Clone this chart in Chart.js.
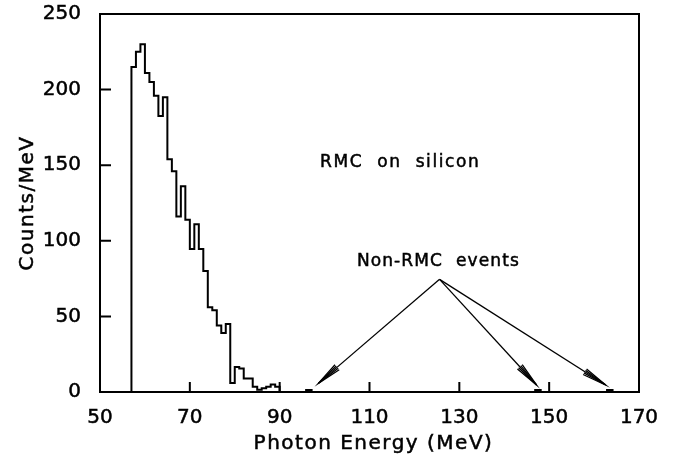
<!DOCTYPE html>
<html><head><meta charset="utf-8">
<script src="https://cdn.jsdelivr.net/npm/chart.js@4"></script>
<style>html,body{margin:0;padding:0;background:#fff}#wrap{width:673px;height:455px}</style>
</head><body><div id="wrap"><canvas id="c" width="673" height="455"></canvas></div>
<script>
// Histogram: bin start energies (MeV, 1 MeV bins) and counts per MeV
const binStarts = [57,58,59,60,61,62,63,64,65,66,67,68,69,70,71,72,73,74,75,76,77,78,79,80,81,82,83,84,85,86,87,88,89];
const counts    = [215,225,230,211,205,196,182.5,195,154,146,116,136,114,94.5,111,94.5,80,56,54,44,39,45,6,16.5,15.5,9,9,3.5,1.5,2.5,3.5,5,3.5];
const binWidth = 1;
// Isolated non-RMC events
const eventEnergies = [96,147,163];
const eventCounts   = [1,1,1];
// Axis ticks
const xTicks = [50,70,90,110,130,150,170];
const yTicks = [0,50,100,150,200,250];
// Arrow annotation (data coordinates)
const arrowBase = [125.6, 74.5];
const arrowTipX = [98.6, 147.2, 162.6];
const arrowTipY = [5.7, 4.6, 4.6];

const histPoints = [{x: binStarts[0], y: 0}];
binStarts.forEach((e, i) => histPoints.push({x: e, y: counts[i]}));
histPoints.push({x: binStarts[binStarts.length - 1] + binWidth, y: 0});

const eventPoints = [];
eventEnergies.forEach((e, i) => {
  eventPoints.push({x: e, y: 0});
  eventPoints.push({x: e, y: eventCounts[i]});
  eventPoints.push({x: e + binWidth, y: 0});
  eventPoints.push({x: e + binWidth, y: null});
});

const FONT = 'DejaVu Sans';
const STROKE = 0.5;

function heavyText(ctx, s, px, py) {
  ctx.lineWidth = STROKE;
  ctx.strokeText(s, px, py);
  ctx.fillText(s, px, py);
}

const overlay = {
  id: 'overlay',
  afterDatasetsDraw(chart) {
    const {ctx, chartArea: a, scales: {x, y}} = chart;
    ctx.save();
    ctx.strokeStyle = '#000';
    ctx.lineWidth = 2;
    ctx.strokeRect(a.left, a.top, a.right - a.left, a.bottom - a.top);
    ctx.beginPath();
    yTicks.forEach(v => { const py = y.getPixelForValue(v); ctx.moveTo(a.left, py); ctx.lineTo(a.left + 11, py); });
    xTicks.forEach(v => { const px = x.getPixelForValue(v); ctx.moveTo(px, a.bottom); ctx.lineTo(px, a.bottom - 10); });
    ctx.stroke();

    // arrows
    ctx.lineWidth = 1.3;
    const bx = x.getPixelForValue(arrowBase[0]), by = y.getPixelForValue(arrowBase[1]);
    arrowTipX.forEach((tx, i) => {
      const px = x.getPixelForValue(tx), py = y.getPixelForValue(arrowTipY[i]);
      ctx.beginPath(); ctx.moveTo(bx, by); ctx.lineTo(px, py); ctx.stroke();
      const ang = Math.atan2(by - py, bx - px);
      const L = 25;
      [0.13, 0.06].forEach(w => {
        ctx.beginPath();
        ctx.moveTo(px + L * Math.cos(ang + w), py + L * Math.sin(ang + w));
        ctx.lineTo(px, py);
        ctx.lineTo(px + L * Math.cos(ang - w), py + L * Math.sin(ang - w));
        ctx.stroke();
      });
    });

    // annotations
    ctx.fillStyle = '#000';
    ctx.strokeStyle = '#000';
    ctx.textBaseline = 'alphabetic';
    ctx.textAlign = 'left';
    ctx.font = '17px "' + FONT + '"';
    ctx.letterSpacing = '1.6px';
    heavyText(ctx, 'RMC  on  silicon', x.getPixelForValue(99), y.getPixelForValue(149));
    ctx.letterSpacing = '1.1px';
    heavyText(ctx, 'Non-RMC  events', x.getPixelForValue(107.2), y.getPixelForValue(83.3));

    // axis titles
    ctx.font = '20px "' + FONT + '"';
    ctx.letterSpacing = '1.5px';
    ctx.textAlign = 'center';
    heavyText(ctx, 'Photon Energy (MeV)', (a.left + a.right) / 2 + 4, 449);
    ctx.translate(33, (a.top + a.bottom) / 2);
    ctx.rotate(-Math.PI / 2);
    heavyText(ctx, 'Counts/MeV', 0, 0);
    ctx.restore();
  }
};

new Chart(document.getElementById('c'), {
  type: 'line',
  data: {
    datasets: [
      {data: histPoints, stepped: 'before', borderColor: '#000', borderWidth: 2, pointRadius: 0, fill: false},
      {data: eventPoints, stepped: 'before', spanGaps: false, borderColor: '#000', borderWidth: 3, pointRadius: 0, fill: false}
    ]
  },
  options: {
    responsive: false, animation: false, devicePixelRatio: 1,
    layout: {padding: {left: 0, right: 34, top: 14, bottom: 0}},
    plugins: {legend: {display: false}, tooltip: {enabled: false}},
    scales: {
      x: {
        type: 'linear', min: 50, max: 170,
        afterBuildTicks: s => { s.ticks = xTicks.map(v => ({value: v})); },
        grid: {display: false, drawTicks: false},
        border: {display: false},
        ticks: {color: '#000', textStrokeColor: '#000', textStrokeWidth: STROKE, font: {family: FONT, size: 20}, padding: 14, maxRotation: 0, autoSkip: false},
        afterFit: s => { s.height = 63; s.paddingLeft = 0; s.paddingRight = 0; }
      },
      y: {
        type: 'linear', min: 0, max: 250,
        afterBuildTicks: s => { s.ticks = yTicks.map(v => ({value: v})); },
        grid: {display: false, drawTicks: false},
        border: {display: false},
        ticks: {color: '#000', textStrokeColor: '#000', textStrokeWidth: STROKE, font: {family: FONT, size: 20}, padding: 19, autoSkip: false},
        afterFit: s => { s.width = 100; s.paddingTop = 0; s.paddingBottom = 0; }
      }
    }
  },
  plugins: [overlay]
});
</script>
</body></html>
